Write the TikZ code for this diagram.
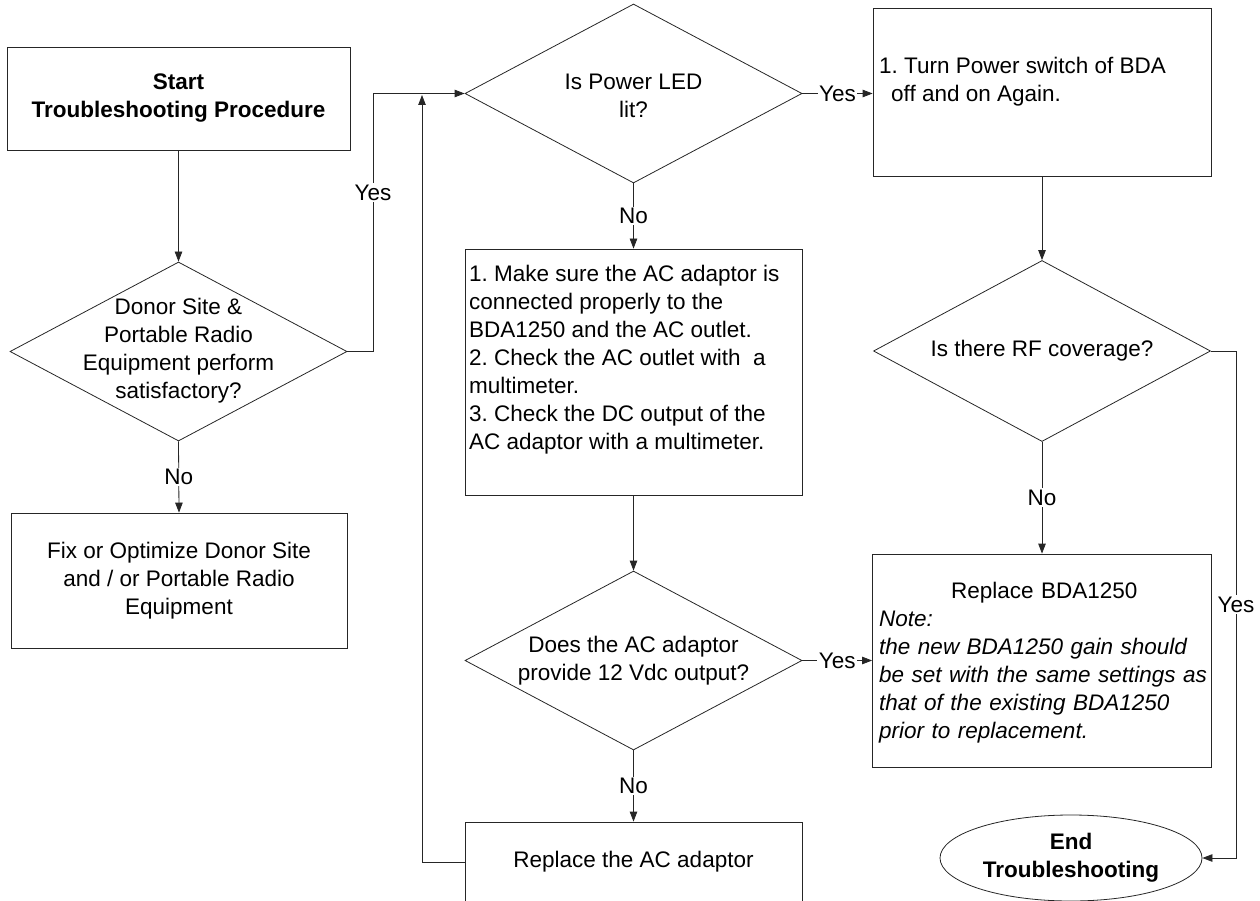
\documentclass[tikz,border=0pt]{standalone}
\usepackage{fontspec}
\setmainfont{Liberation Sans}
\usetikzlibrary{shapes.geometric,arrows.meta}
\setlength{\parindent}{0pt}
\frenchspacing
\begin{document}
\begin{tikzpicture}[x=1pt,y=-1pt,
  every node/.style={font=\fontsize{22.5}{28}\selectfont},
  box/.style={draw=black!85, line width=0.8pt, rectangle, inner sep=0pt},
  dia/.style={draw=black!85, line width=0.8pt, diamond, inner sep=0pt, minimum width=337pt, minimum height=179pt},
  oval/.style={draw=black!85, line width=0.8pt, ellipse, inner sep=0pt},
  txt/.style={align=center, inner sep=0pt},
  ltxt/.style={align=left, inner sep=0pt, anchor=north west},
  lbl/.style={fill=white, inner sep=1.5pt},
  line/.style={draw=black!85, line width=0.8pt},
  arr/.style={line, -{Triangle[length=10pt,width=7.5pt]}}
]
\useasboundingbox (0,0) rectangle (1260,901);

% nodes
\node[box, minimum width=343pt, minimum height=103pt, align=center,
      font=\bfseries\fontsize{22.5}{28}\selectfont] (start) at (178.5,98.5)
      {Start\\Troubleshooting Procedure};

\node[dia] (d1) at (178.5,351.5) {};
\node[txt] (d1t) at (178.5,351) {Donor Site \&\\Portable Radio\\Equipment perform\\satisfactory?};

\node[box, minimum width=336pt, minimum height=135pt, align=center] (fix) at (179,580.5)
      {Fix or Optimize Donor Site\\and / or Portable Radio\\Equipment};

\node[dia] (d2) at (633.5,93.5) {};
\node[txt] (d2t) at (633.5,96) {Is Power LED\\lit?};

\node[box, minimum width=337pt, minimum height=246pt] (b3) at (633.5,372) {};
\node[ltxt] (b3t) at (469,265) {1. Make sure the AC adaptor is\\connected properly to the\\BDA1250 and the AC outlet.\\2. Check the AC outlet with \ a\\multimeter.\\3. Check the DC output of the\\AC adaptor with a multimeter.};

\node[dia] (d4) at (633.5,660.5) {};
\node[txt] (d4t) at (633.5,660.5) {Does the AC adaptor\\provide 12 Vdc output?};

\node[box, minimum width=337pt, minimum height=80pt] (rep) at (633.5,862) {Replace the AC adaptor};

\node[box, minimum width=338pt, minimum height=168pt] (b4) at (1042,92) {};
\node[ltxt] (b4t) at (879,57) {1. Turn Power switch of BDA\\\hspace*{12pt}off and on Again.};

\node[dia, minimum height=181pt] (d3) at (1042,351) {};
\node[txt] (d3t) at (1042,351) {Is there RF coverage?};

\node[box, minimum width=339pt, minimum height=213pt] (b5) at (1042,660.5) {};
\node[ltxt, text width=330pt] (b5t) at (879,582) {\hfill Replace BDA1250\hfill\mbox{}\\\itshape Note:\\the new BDA1250 gain should\\be set with the same settings as\\that of the existing BDA1250\\prior to replacement.};

\node[oval, minimum width=262pt, minimum height=86pt] (end) at (1071,858) {};
\node[txt, font=\bfseries\fontsize{22.5}{28}\selectfont] (endt) at (1071,857.5) {End\\Troubleshooting};

% helper coordinates
\coordinate (j1) at (373,351.5);
\coordinate (j2) at (373,93.5);
\coordinate (j3) at (422,0);
\coordinate (j4) at (1236,0);

% connectors
\draw[arr] (start.south) -- (d1.north);
\draw[arr] (d1.south) -- node[lbl]{No} (fix.north);
\draw[arr] (d1.east) -- (j1) -- node[lbl, pos=0.616]{Yes} (j2) -- (d2.west);
\draw[arr] (d2.east) -- node[lbl]{Yes} (d2.east -| b4.west);
\draw[arr] (d2.south) -- node[lbl]{No} (b3.north);
\draw[arr] (b3.south) -- (d4.north);
\draw[arr] (d4.east) -- node[lbl]{Yes} (d4.east -| b5.west);
\draw[arr] (d4.south) -- node[lbl]{No} (rep.north);
\draw[arr] (rep.west) -- (rep.west -| j3) -- ([yshift=-1.5pt]j3 |- d2.west);
\draw[arr] (b4.south) -- (d3.north);
\draw[arr] (d3.south) -- node[lbl]{No} (b5.north);
\draw[arr] (d3.east) -- (d3.east -| j4) -- node[lbl]{Yes} (j4 |- end.east) -- (end.east);
\end{tikzpicture}
\end{document}
